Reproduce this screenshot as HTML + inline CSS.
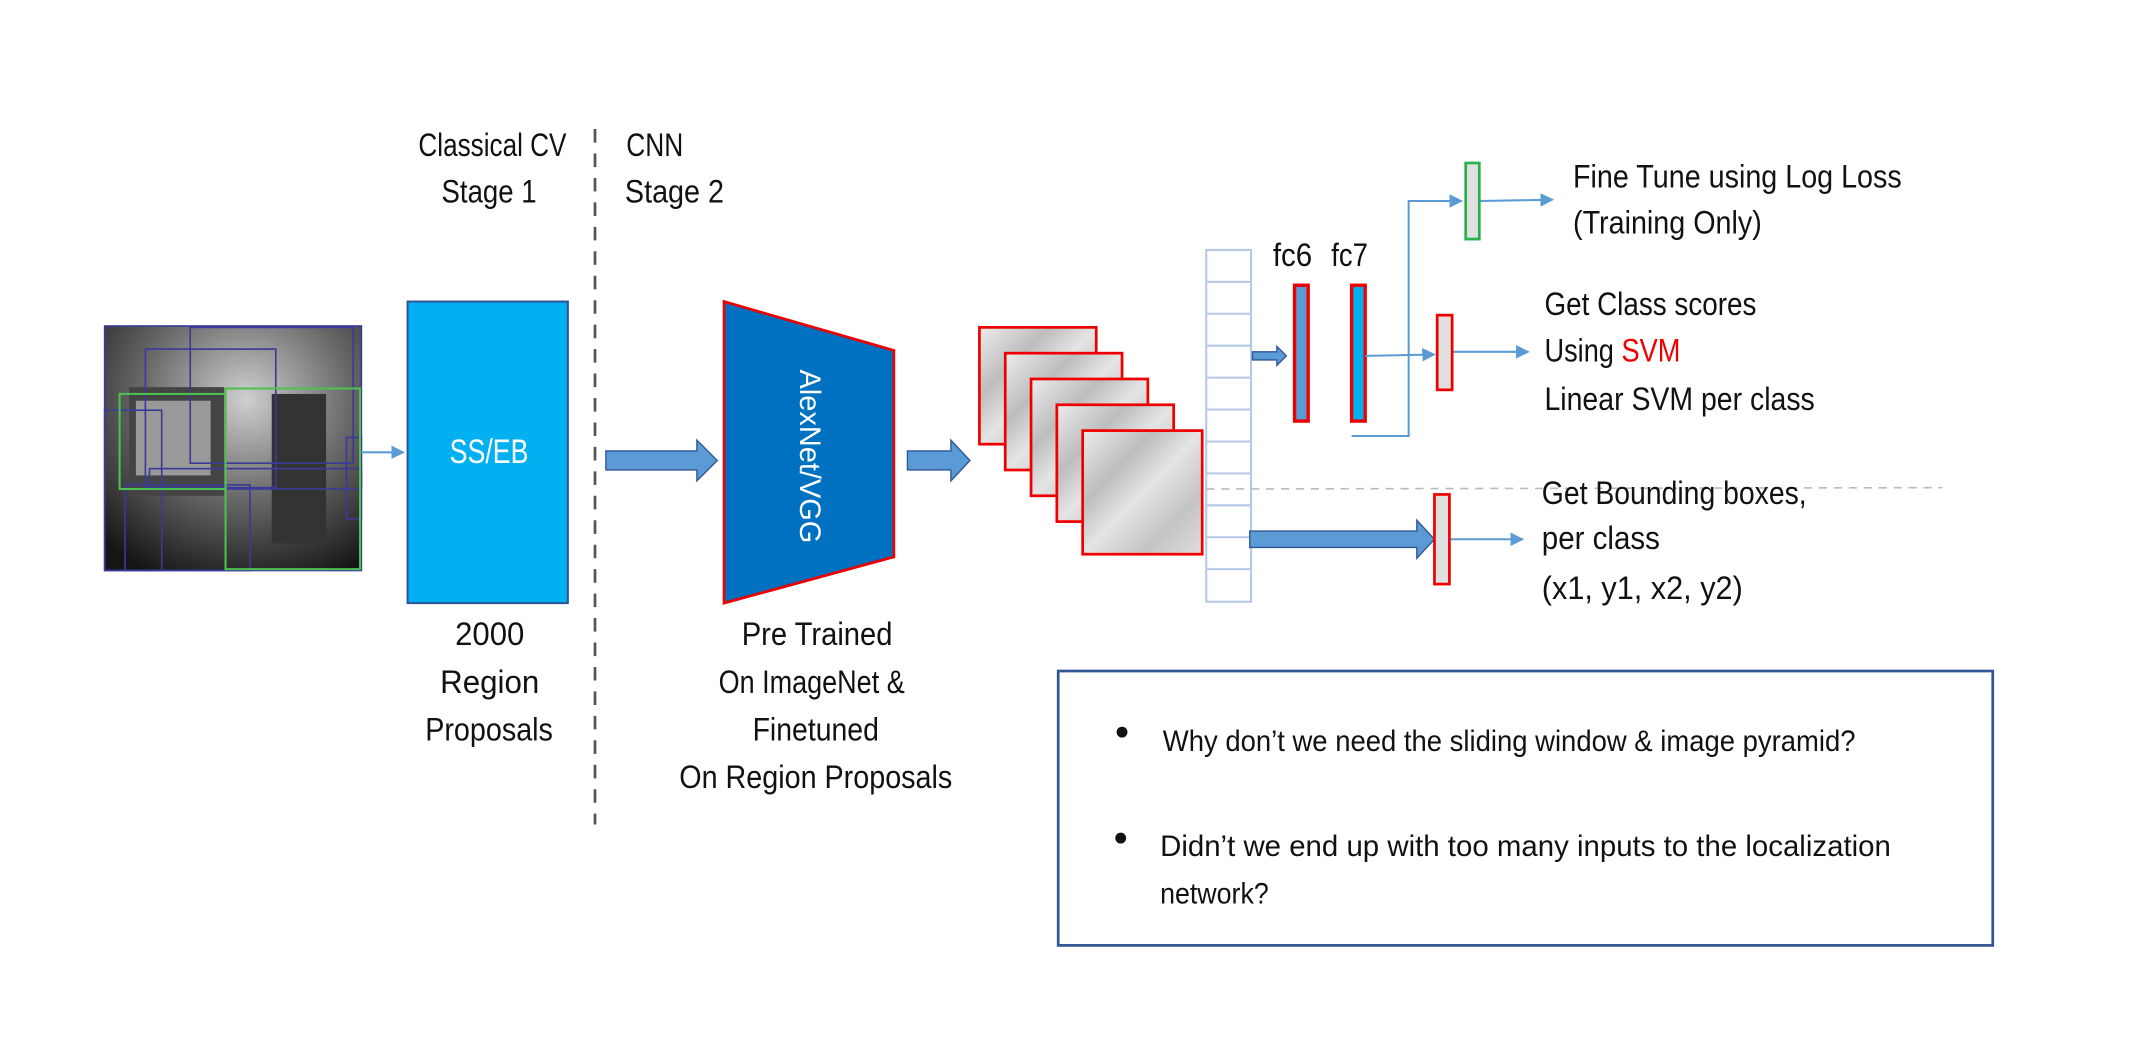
<!DOCTYPE html>
<html><head><meta charset="utf-8"><style>
html,body{margin:0;padding:0;background:#fff;width:2130px;height:1050px;overflow:hidden}
svg{display:block}
text{font-family:"Liberation Sans",sans-serif;fill:#111;font-size:24px}
</style></head><body>
<svg width="2130" height="1050" viewBox="0 0 1568 773" xmlns="http://www.w3.org/2000/svg">
<defs>
<radialGradient id="ph" cx="0.55" cy="0.3" r="0.8"><stop offset="0" stop-color="#cfcfcf"/><stop offset="0.5" stop-color="#6a6a6a"/><stop offset="1" stop-color="#151515"/></radialGradient>
<linearGradient id="tx" x1="0" y1="0" x2="1" y2="1"><stop offset="0" stop-color="#ececec"/><stop offset="0.3" stop-color="#bdbdbd"/><stop offset="0.5" stop-color="#e4e4e4"/><stop offset="0.75" stop-color="#c4c4c4"/><stop offset="1" stop-color="#dedede"/></linearGradient>
<marker id="ah" markerWidth="10" markerHeight="10" refX="9" refY="5" orient="auto" markerUnits="userSpaceOnUse"><path d="M0,0 L10,5 L0,10 z" fill="#5b9bd5"/></marker>
</defs>
<!-- photo -->
<rect x="77" y="240" width="189" height="180" fill="url(#ph)"/>
<rect x="95" y="285" width="70" height="80" fill="#444"/>
<rect x="100" y="295" width="55" height="55" fill="#999"/>
<rect x="200" y="290" width="40" height="110" fill="#333"/>
<g fill="none" stroke="#3a3a9a" stroke-width="1.2">
<rect x="77" y="240" width="189" height="180"/><rect x="140" y="241" width="120" height="100"/><rect x="107" y="257" width="96" height="102"/><rect x="77" y="302" width="42" height="118"/><rect x="92" y="357" width="92" height="63"/><rect x="110" y="345" width="156" height="15"/><rect x="255" y="322" width="11" height="60"/></g>
<g fill="none" stroke="#4ec24e" stroke-width="1.5"><rect x="88" y="290" width="78" height="70"/><rect x="166" y="286" width="99" height="133"/></g>
<line x1="266" y1="333" x2="297" y2="333" stroke="#5b9bd5" stroke-width="1.5" marker-end="url(#ah)"/>
<!-- SS/EB -->
<rect x="300" y="222" width="118" height="222" fill="#00b0f0" stroke="#2f5597" stroke-width="1.5"/>
<text x="331" y="341" textLength="58" lengthAdjust="spacingAndGlyphs" style="fill:#fff;font-size:25px">SS/EB</text>
<text x="308" y="115" textLength="109" lengthAdjust="spacingAndGlyphs">Classical CV</text>
<text x="325" y="149" textLength="70" lengthAdjust="spacingAndGlyphs">Stage 1</text>
<text x="461" y="115" textLength="42" lengthAdjust="spacingAndGlyphs">CNN</text>
<text x="460" y="149" textLength="73" lengthAdjust="spacingAndGlyphs">Stage 2</text>
<line x1="438" y1="95" x2="438" y2="607" stroke="#555" stroke-width="2" stroke-dasharray="10,8"/>
<text x="335" y="475" textLength="51" lengthAdjust="spacingAndGlyphs">2000</text>
<text x="324" y="510" textLength="73" lengthAdjust="spacingAndGlyphs">Region</text>
<text x="313" y="545" textLength="94" lengthAdjust="spacingAndGlyphs">Proposals</text>
<!-- big arrows -->
<path d="M446,332 L513,332 L513,324 L528,339 L513,354 L513,346 L446,346 z" fill="#5b9bd5" stroke="#2f5597" stroke-width="1"/>
<path d="M668,332 L700,332 L700,324 L714,339 L700,354 L700,346 L668,346 z" fill="#5b9bd5" stroke="#2f5597" stroke-width="1"/>
<!-- trapezoid -->
<polygon points="533,222 658,258 658,410 533,444" fill="#0070c0" stroke="#e00" stroke-width="2"/>
<text x="0" y="0" transform="translate(589,272) rotate(90)" textLength="128" lengthAdjust="spacingAndGlyphs" style="fill:#fff;font-size:22px">AlexNet/VGG</text>
<text x="546" y="475" textLength="111" lengthAdjust="spacingAndGlyphs">Pre Trained</text>
<text x="529" y="510" textLength="137" lengthAdjust="spacingAndGlyphs">On ImageNet &amp;</text>
<text x="554" y="545" textLength="93" lengthAdjust="spacingAndGlyphs">Finetuned</text>
<text x="500" y="580" textLength="201" lengthAdjust="spacingAndGlyphs">On Region Proposals</text>
<!-- texture stack -->
<g stroke="#e00" stroke-width="2" fill="url(#tx)">
<rect x="721" y="241" width="86" height="86"/><rect x="740" y="260" width="86" height="86"/><rect x="759" y="279" width="86" height="86"/><rect x="778" y="298" width="86" height="86"/><rect x="797" y="317" width="88" height="91"/></g>
<!-- vector -->
<rect x="888" y="184" width="33" height="259" fill="#fff" stroke="#b4c7e7" stroke-width="1.5"/>
<g stroke="#b4c7e7" stroke-width="1.5">
<line x1="888" y1="207.5" x2="921" y2="207.5"/><line x1="888" y1="231" x2="921" y2="231"/><line x1="888" y1="254.5" x2="921" y2="254.5"/><line x1="888" y1="278" x2="921" y2="278"/><line x1="888" y1="301.5" x2="921" y2="301.5"/><line x1="888" y1="325" x2="921" y2="325"/><line x1="888" y1="348.5" x2="921" y2="348.5"/><line x1="888" y1="372" x2="921" y2="372"/><line x1="888" y1="395.5" x2="921" y2="395.5"/><line x1="888" y1="419" x2="921" y2="419"/></g>
<line x1="888" y1="360" x2="1430" y2="359" stroke="#bbb" stroke-width="1.2" stroke-dasharray="6,5"/>
<!-- fc -->
<text x="937" y="196" textLength="29" lengthAdjust="spacingAndGlyphs">fc6</text>
<text x="980" y="196" textLength="27" lengthAdjust="spacingAndGlyphs">fc7</text>
<rect x="953" y="210" width="10" height="100" fill="#5b9bd5" stroke="#e00" stroke-width="2.5"/>
<rect x="995" y="210" width="10" height="100" fill="#00b0f0" stroke="#e00" stroke-width="2.5"/>
<path d="M922,259 L940,259 L940,255 L947,262 L940,269 L940,265 L922,265 z" fill="#5b9bd5" stroke="#2f5597" stroke-width="1"/>
<path d="M920,391 L1043,391 L1043,383 L1056,397 L1043,411 L1043,403 L920,403 z" fill="#5b9bd5" stroke="#2f5597" stroke-width="1"/>
<g stroke="#5b9bd5" stroke-width="1.5" fill="none">
<line x1="1005" y1="262" x2="1056" y2="261" marker-end="url(#ah)"/>
<line x1="1069" y1="259" x2="1125" y2="259" marker-end="url(#ah)"/>
<polyline points="995,321 1037,321 1037,148 1076,148" marker-end="url(#ah)"/>
<line x1="1089" y1="148" x2="1143" y2="147" marker-end="url(#ah)"/>
<line x1="1068" y1="397" x2="1121" y2="397" marker-end="url(#ah)"/>
</g>
<rect x="1079" y="120" width="10" height="56" fill="#e0e0e0" stroke="#2ab04a" stroke-width="2"/>
<rect x="1058" y="232" width="11" height="55" fill="#e0e0e0" stroke="#e00" stroke-width="2"/>
<rect x="1056" y="364" width="11" height="66" fill="#e0e0e0" stroke="#e00" stroke-width="2"/>
<text x="1158" y="138" textLength="242" lengthAdjust="spacingAndGlyphs">Fine Tune using Log Loss</text>
<text x="1158" y="172" textLength="139" lengthAdjust="spacingAndGlyphs">(Training Only)</text>
<text x="1137" y="232" textLength="156" lengthAdjust="spacingAndGlyphs">Get Class scores</text>
<text x="1137" y="266" textLength="100" lengthAdjust="spacingAndGlyphs">Using <tspan style="fill:#e00">SVM</tspan></text>
<text x="1137" y="302" textLength="199" lengthAdjust="spacingAndGlyphs">Linear SVM per class</text>
<text x="1135" y="371" textLength="195" lengthAdjust="spacingAndGlyphs">Get Bounding boxes,</text>
<text x="1135" y="404" textLength="87" lengthAdjust="spacingAndGlyphs">per class</text>
<text x="1135" y="441" textLength="148" lengthAdjust="spacingAndGlyphs">(x1, y1, x2, y2)</text>
<!-- question box -->
<rect x="779" y="494" width="688" height="202" fill="none" stroke="#2f5597" stroke-width="2"/>
<circle cx="826" cy="539" r="4" fill="#111"/>
<text x="856" y="553" textLength="510" lengthAdjust="spacingAndGlyphs" style="font-size:22px">Why don’t we need the sliding window &amp; image pyramid?</text>
<circle cx="825" cy="617" r="4" fill="#111"/>
<text x="854" y="630" textLength="538" lengthAdjust="spacingAndGlyphs" style="font-size:22px">Didn’t we end up with too many inputs to the localization</text>
<text x="854" y="665" textLength="80" lengthAdjust="spacingAndGlyphs" style="font-size:22px">network?</text>
</svg>
</body></html>
